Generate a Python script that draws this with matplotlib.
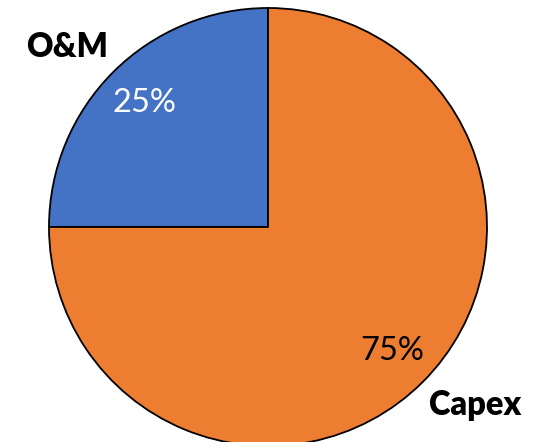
import matplotlib.pyplot as plt

# cost split
labels = ['O&M', 'Capex']
shares = [25, 75]
colors = ['#4472C4', '#ED7D31']
pct_colors = ['white', 'black']

plt.rcParams['font.family'] = ['Lato', 'DejaVu Sans']

fig = plt.figure(figsize=(5.35, 4.42), dpi=100)
ax = fig.add_axes([0, 0, 1, 1])

wedges, texts, autotexts = ax.pie(
    shares, labels=labels, colors=colors, startangle=90, counterclock=True,
    center=(268, 215), radius=219, autopct='%d%%', pctdistance=0.8,
    labeldistance=1.25, frame=True,
    wedgeprops=dict(edgecolor='black', linewidth=1.3))
ax.set_xlim(0, 535)
ax.set_ylim(0, 442)
ax.set_aspect('equal')
ax.axis('off')

# category names sit a little off the wedge bisectors
label_pos = [(67, 395), (475, 37)]
for t, pos in zip(texts, label_pos):
    t.set_position(pos)
    t.set_fontsize(23.5)
    t.set_fontweight('heavy')
    t.set_ha('center')
    t.set_va('center')
for t, c in zip(autotexts, pct_colors):
    t.set_fontsize(23.5)
    t.set_color(c)

fig.savefig('out.png', dpi=100)
